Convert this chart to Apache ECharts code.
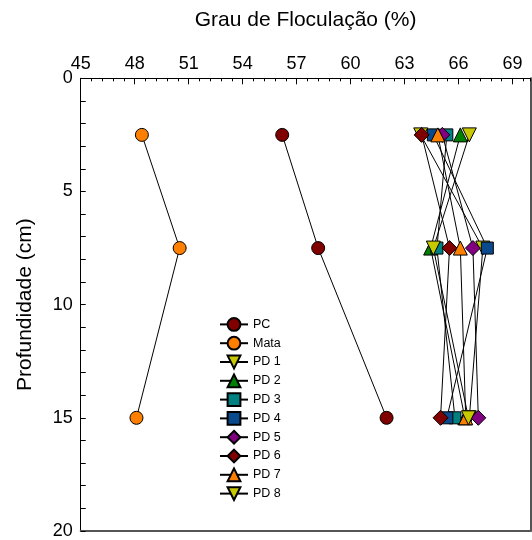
<!DOCTYPE html>
<html>
<head>
<meta charset="utf-8">
<script src="https://cdn.jsdelivr.net/npm/echarts@6/dist/echarts.min.js"></script>
<style>html,body{margin:0;padding:0;background:#fff}#c{width:532px;height:540px}</style>
</head>
<body>
<div id="c"></div>
<script>
// Depths (cm)
const depths = [2.5, 7.5, 15];
// Grau de Floculação (%) at each depth
const PC   = [56.2, 58.2, 62.0];
const Mata = [48.4, 50.5, 48.1];
const PD1  = [63.9, 67.35, 66.6];
const PD2  = [66.1, 64.45, 66.35];
const PD3  = [65.35, 64.8, 65.8];
const PD4  = [64.6, 67.6, 65.35];
const PD5  = [65.1, 66.8, 67.1];
const PD6  = [63.95, 65.5, 65.0];
const PD7  = [64.85, 66.1, 66.4];
const PD8  = [66.6, 64.6, 66.55];
const names = ['PC','Mata','PD 1','PD 2','PD 3','PD 4','PD 5','PD 6','PD 7','PD 8'];
const values = [PC, Mata, PD1, PD2, PD3, PD4, PD5, PD6, PD7, PD8];
const colors = ['#800000','#FF8000','#C8C800','#008000','#008080','#0A4A8C','#800080','#800000','#FF8000','#C8C800'];
const symbols = ['circle','circle','triangle','triangle','rect','rect','diamond','diamond','triangle','triangle'];
const rotates = [0,0,180,0,0,0,0,0,0,180];
const sizes = [13,13,14,14,12,12,15,15,14,14];

const FONT = "'Liberation Sans', Arial, sans-serif";
const series = names.map((n,i)=>({
  name:n, type:'line', xAxisIndex:0, yAxisIndex:0,
  data: depths.map((d,j)=>[values[i][j], d]),
  symbol:symbols[i], symbolSize:sizes[i], symbolRotate:rotates[i],
  showAllSymbol:true,
  lineStyle:{color:'#000', width:1},
  itemStyle:{color:colors[i], borderColor:'#000', borderWidth:1},
  emphasis:{disabled:true}, animation:false
}));

const chart = echarts.init(document.getElementById('c'), null, {renderer:'canvas'});
chart.setOption({
  animation:false,
  backgroundColor:'#fff',
  grid:{left:80.7, top:78.3, right:1.5, bottom:9, show:false},
  legend:{
    orient:'vertical', left:219, top:317, padding:0, itemWidth:28, itemHeight:16, itemGap:4,
    textStyle:{fontFamily:FONT, fontSize:12.5, color:'#000'},
    data:names
  },
  xAxis:[
    {type:'value', position:'top', min:45, max:70, interval:3,
     name:'Grau de Floculação (%)', nameLocation:'middle', nameGap:48,
     nameTextStyle:{fontFamily:FONT, fontSize:21, color:'#000'},
     axisLine:{lineStyle:{color:'#000', width:1}},
     axisTick:{inside:true, length:6, lineStyle:{color:'#000'}},
     axisLabel:{fontFamily:FONT, fontSize:18, color:'#000', margin:5, showMaxLabel:false},
     splitLine:{show:false}},
    {type:'value', position:'top', min:45, max:70, interval:0.6,
     axisLine:{show:false}, axisLabel:{show:false},
     axisTick:{inside:true, length:3, lineStyle:{color:'#000'}},
     splitLine:{show:false}},
    {type:'value', position:'bottom', min:45, max:70,
     axisLine:{lineStyle:{color:'#555', width:2}}, axisTick:{show:false}, axisLabel:{show:false},
     splitLine:{show:false}}
  ],
  yAxis:[
    {type:'value', inverse:true, min:0, max:20, interval:5,
     name:'Profundidade (cm)', nameLocation:'middle', nameGap:45, nameRotate:90,
     nameTextStyle:{fontFamily:FONT, fontSize:21, color:'#000'},
     axisLine:{show:true, lineStyle:{color:'#000', width:1}},
     axisTick:{inside:true, length:5, lineStyle:{color:'#000'}},
     minorTick:{show:true, splitNumber:5, length:5, lineStyle:{color:'#000'}},
     axisLabel:{fontFamily:FONT, fontSize:18, color:'#000', margin:8},
     splitLine:{show:false}},
    {type:'value', position:'right', inverse:true, min:0, max:20,
     axisLine:{show:true, lineStyle:{color:'#555', width:2}}, axisTick:{show:false}, axisLabel:{show:false},
     splitLine:{show:false}}
  ],
  series: series
});
</script>
</body>
</html>
